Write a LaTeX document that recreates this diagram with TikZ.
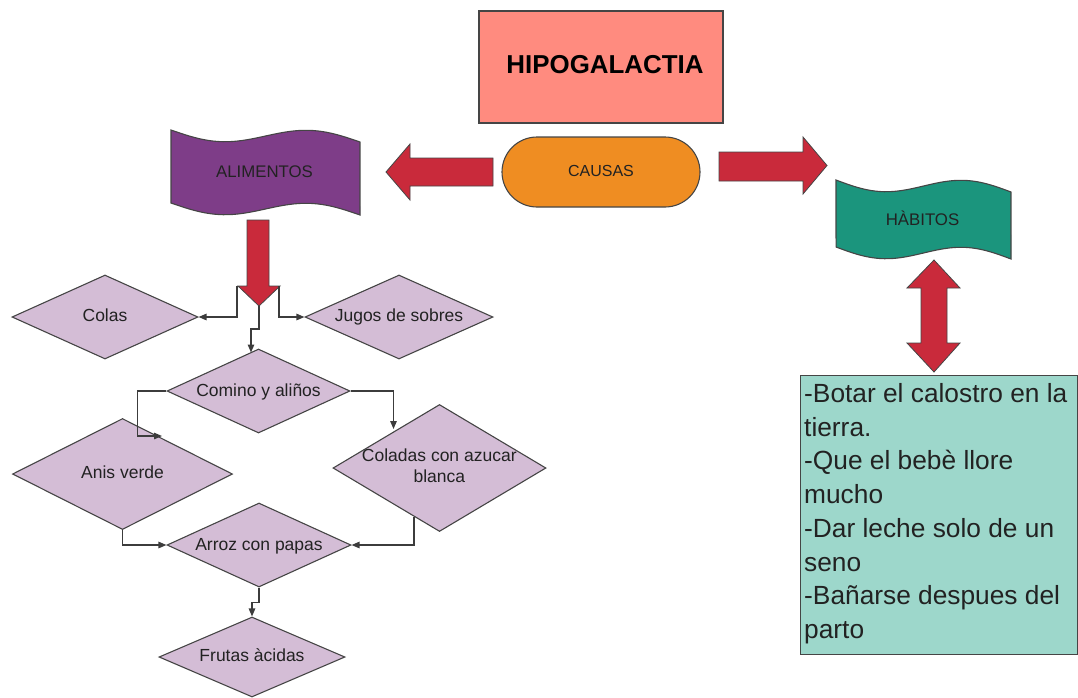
\documentclass[tikz,border=0pt]{standalone}
\usepackage{fontspec}
\setmainfont{Liberation Sans}
\usetikzlibrary{arrows.meta,shapes.geometric}

\definecolor{edgegray}{HTML}{454545}
\definecolor{linegray}{HTML}{3C3C3C}
\definecolor{textdark}{HTML}{222222}
\definecolor{salmon}{HTML}{FF8B7F}
\definecolor{causeorange}{HTML}{EF8D22}
\definecolor{arrowred}{HTML}{C92A3B}
\definecolor{foodpurple}{HTML}{7E3D88}
\definecolor{habitteal}{HTML}{1B957D}
\definecolor{lilac}{HTML}{D4BDD6}
\definecolor{listteal}{HTML}{9DD7CB}

% wavy "tape" banner: left x, top y, width, height, style
\newcommand{\tapebanner}[5]{%
  \draw[#5] plot[domain=0:1,samples=41,variable=\t]
      ({#1+#3*\t},{#2+12*\t+8.5*sin(360*\t)})
    -- plot[domain=1:0,samples=41,variable=\t]
      ({#1+#3*\t},{#2+#4+12*\t+8.5*sin(360*\t)})
    -- cycle;}

\begin{document}
\begin{tikzpicture}[x=1pt,y=-1pt,
  outline/.style={draw=edgegray,line width=1.1pt},
  diam/.style={shape=diamond,outline,fill=lilac,inner sep=0pt},
  lbl/.style={anchor=base,inner sep=0pt,text=textdark,font=\fontsize{17.5}{21}\selectfont},
  bannertext/.style={anchor=base,inner sep=0pt,text=textdark,font=\fontsize{16.8}{20}\selectfont},
  blockarrow/.style={fill=arrowred,draw=edgegray,line width=0.8pt,line join=miter},
  conn/.style={draw=linegray,line width=1.3pt,-{Triangle[length=8pt,width=6.5pt]}}]

\useasboundingbox (0,0) rectangle (1078,697);

% title and cause
\node[outline,fill=salmon,minimum width=244pt,minimum height=112pt,inner sep=0pt] (title) at (601,67) {};
\node[anchor=base,inner sep=0pt,font=\bfseries\fontsize{25.9}{30}\selectfont] (titletext) at (605,73.3) {HIPOGALACTIA};

\node[outline,fill=causeorange,rounded corners=35pt,minimum width=198pt,minimum height=70pt,inner sep=0pt] (causas) at (601,172) {};
\node[bannertext,font=\fontsize{16}{19}\selectfont] (causastext) at (601,176.7) {CAUSAS};

% banners
\tapebanner{171}{130}{189}{73}{outline,fill=foodpurple}
\node[bannertext] (alimentos) at (264.5,177.3) {ALIMENTOS};
\tapebanner{836}{180}{175}{67}{outline,fill=habitteal}
\node[bannertext] (habitos) at (922.5,225.7) {HÀBITOS};

% block arrows
\draw[blockarrow] (493,158) -- (410,158) -- (410,144) -- (386,172) -- (410,200) -- (410,186) -- (493,186) -- cycle;
\draw[blockarrow] (719,152) -- (803,152) -- (803,137) -- (827,165.5) -- (803,194) -- (803,181) -- (719,181) -- cycle;
\draw[blockarrow] (247,220) -- (269,220) -- (269,286) -- (280,286) -- (259,306) -- (238,286) -- (247,286) -- cycle;
\draw[blockarrow] (921,288) -- (907,288) -- (934,260) -- (960,288) -- (947,288) -- (947,343) -- (960,343) -- (934,372) -- (907,343) -- (921,343) -- cycle;

% habit list
\node[outline,fill=listteal,minimum width=277pt,minimum height=279pt,anchor=north west,inner sep=0pt] (list) at (800,375) {};
\node[anchor=base west,inner sep=0pt,text=textdark,font=\fontsize{26.3}{33.7}\selectfont] (listtext) at (804,402.5)
  {\parbox[t]{272pt}{\raggedright
   -Botar el calostro en la\\
   tierra.\\
   -Que el bebè llore\\
   mucho\\
   -Dar leche solo de un\\
   seno\\
   -Bañarse despues del\\
   parto}};

% food decision diamonds
\node[diam,minimum width=186pt,minimum height=84pt] (colas) at (105,317) {};
\node[lbl] at (105,321) {Colas};
\node[diam,minimum width=188pt,minimum height=84pt] (jugos) at (399,317) {};
\node[lbl] at (399,321) {Jugos de sobres};
\node[diam,minimum width=183pt,minimum height=84pt] (comino) at (258.5,391) {};
\node[lbl] at (258.5,396) {Comino y aliños};
\node[diam,minimum width=220pt,minimum height=111pt] (anis) at (122.5,474) {};
\node[lbl] at (122.5,478.5) {Anis verde};
\node[diam,minimum width=213pt,minimum height=127pt] (coladas) at (439.5,468) {};
\node[lbl] at (439.3,461.7) {\parbox[t]{180pt}{\centering Coladas con azucar\\[-0.2pt] blanca}};
\node[diam,minimum width=184pt,minimum height=84pt] (arroz) at (259,545) {};
\node[lbl] at (259,550) {Arroz con papas};
\node[diam,minimum width=186pt,minimum height=80pt] (frutas) at (252,657) {};
\node[lbl] at (252,661.7) {Frutas àcidas};

% connector end points
\coordinate (forkL) at (237,286);
\coordinate (forkR) at (279,286);
\coordinate (forkM) at (259,306);
\coordinate (anisin) at (162,436);
\coordinate (coladasin) at (393.5,429);
\coordinate (coladasout) at (414,517);

% connectors
\draw[conn] (forkL) |- (colas.east);
\draw[conn] (forkR) |- (jugos.west);
\draw[conn] (forkM) -- ++(0,23) -- ++(-8,0) -- ++(0,23.5);
\draw[conn] (comino.west) -- ++(-29,0) |- (anisin);
\draw[conn] (comino.east) -| (coladasin);
\draw[conn] (anis.south) |- (arroz.west);
\draw[conn] (coladasout) |- (arroz.east);
\draw[conn] (arroz.south) -- ++(0,15) -| (frutas.north);

\end{tikzpicture}
\end{document}
